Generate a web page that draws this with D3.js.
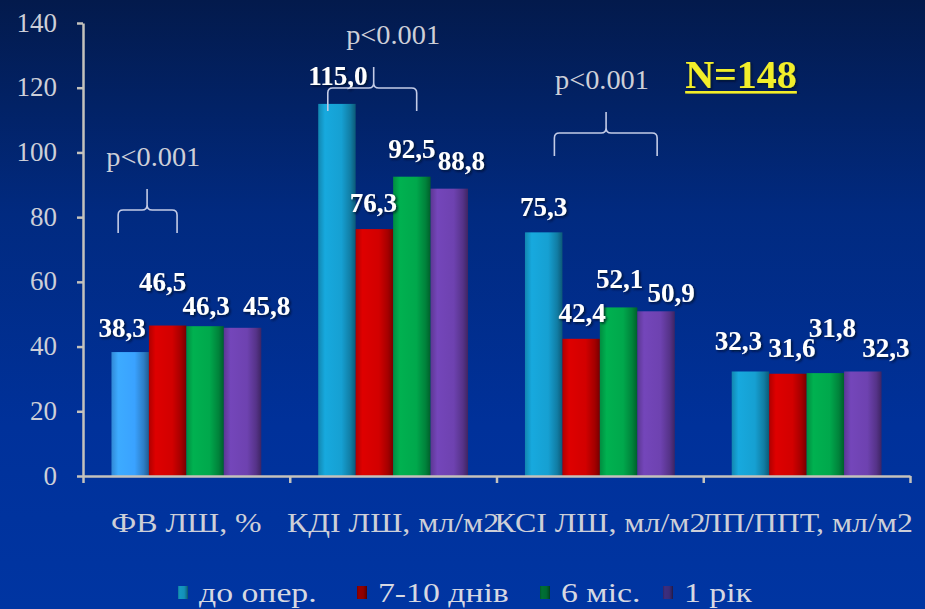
<!DOCTYPE html>
<html>
<head>
<meta charset="utf-8">
<script src="https://cdn.jsdelivr.net/npm/d3@7/dist/d3.min.js"></script>
<style>
  html, body { margin: 0; padding: 0; background: #00309a; }
  svg { display: block; }
</style>
</head>
<body>
<svg id="chart" width="925" height="609"></svg>
<script>
// Echocardiographic indices before surgery and at follow-up (N = 148)
const categories = ["ФВ ЛШ, %", "КДІ ЛШ, мл/м2", "КСІ ЛШ, мл/м2", "ЛП/ППТ, мл/м2"];
const seriesNames = ["до опер.", "7-10 днів", "6 міс.", "1 рік"];
const preOp    = [38.3, 115.0, 75.3, 32.3];
const days7to10 = [46.5, 76.3, 42.4, 31.6];
const months6  = [46.3, 92.5, 52.1, 31.8];
const year1    = [45.8, 88.8, 50.9, 32.3];
const yTicks = [0, 20, 40, 60, 80, 100, 120, 140];
const sampleNote = "N=148";
const pNote = "p<0.001";
const pCategories = [0, 1, 2];  // categories carrying a significance brace

const seriesValues = [preOp, days7to10, months6, year1];

// --- layout / styling ---
const W = 925, H = 609;
const plot = { left: 83, right: 910, top: 23, bottom: 476 };
const barColors = ["#16a0d2", "#d20000", "#00a84c", "#6e42b0"];
const firstBarColor = "#3aa2ff";
const legendColors = ["#1390b8", "#8e0000", "#006a32", "#3a2c78"];
// value-label nudges (px) per [category][series]: horizontal shift, lift above bar top
const labelShift = [[-8, -5, 1, 24], [1, -1, 0, 12], [0, 1, 1, 15], [-12, 4, 7, 23]];
const labelLift  = [[15, 35, 11, 13], [19, 17, 19, 19], [16, 17, 19, 9], [21, 17, 36, 14]];
// brace geometry within a category band (fractions) and the y value of its bar line
const braceSpec = [
  { from: 0.17, tip: 0.31, to: 0.455, level: 82.2, textAt: 0.34 },
  { from: 0.184, tip: 0.406, to: 0.614, level: 119.9, textAt: 0.50 },
  { from: 0.28, tip: 0.53, to: 0.777, level: 106.0, textAt: 0.51 }
];

const svg = d3.select("#chart");
const defs = svg.append("defs");

// background
const bg = defs.append("linearGradient").attr("id", "bg")
  .attr("x1", 0).attr("y1", 0).attr("x2", 0).attr("y2", 1);
bg.append("stop").attr("offset", "0%").attr("stop-color", "#031a4c");
bg.append("stop").attr("offset", "35%").attr("stop-color", "#012a80");
bg.append("stop").attr("offset", "70%").attr("stop-color", "#00319a");
bg.append("stop").attr("offset", "100%").attr("stop-color", "#0035a2");
svg.append("rect").attr("width", W).attr("height", H).attr("fill", "url(#bg)");

// cylinder-like shading for bars
function shade(id, c) {
  const base = d3.color(c);
  const g = defs.append("linearGradient").attr("id", id)
    .attr("x1", 0).attr("y1", 0).attr("x2", 1).attr("y2", 0);
  g.append("stop").attr("offset", "0%").attr("stop-color", base.darker(0.5));
  g.append("stop").attr("offset", "18%").attr("stop-color", base.brighter(0.15));
  g.append("stop").attr("offset", "62%").attr("stop-color", base);
  g.append("stop").attr("offset", "86%").attr("stop-color", base.darker(0.7));
  g.append("stop").attr("offset", "100%").attr("stop-color", base.darker(1.6));
}
barColors.forEach((c, i) => shade("bar" + i, c));
shade("barFirst", firstBarColor);
legendColors.forEach((c, i) => shade("leg" + i, c));

const shadow = defs.append("filter").attr("id", "shadow")
  .attr("x", "-20%").attr("y", "-20%").attr("width", "140%").attr("height", "140%");
shadow.append("feDropShadow").attr("dx", 1.5).attr("dy", 1.5).attr("stdDeviation", 1)
  .attr("flood-color", "#000820").attr("flood-opacity", 0.8);

// scales
const x = d3.scaleBand().domain(d3.range(categories.length))
  .range([plot.left, plot.right]).paddingInner(0).paddingOuter(0);
const xs = d3.scaleBand().domain(d3.range(seriesNames.length))
  .range([0, x.bandwidth()]).paddingInner(0).paddingOuter(0.76);
const y = d3.scaleLinear().domain([0, 140]).range([plot.bottom, plot.top]);

// bars
const cells = [];
categories.forEach((cat, ci) => {
  seriesValues.forEach((vals, si) => cells.push({ ci, si, v: vals[ci] }));
});

svg.append("g").selectAll("rect").data(cells).join("rect")
  .attr("x", d => x(d.ci) + xs(d.si))
  .attr("y", d => y(d.v))
  .attr("width", xs.bandwidth())
  .attr("height", d => y(0) - y(d.v))
  .attr("fill", d => (d.ci === 0 && d.si === 0) ? "url(#barFirst)" : `url(#bar${d.si})`);

// axes
const axisColor = "#c4c2bc";
const serif = "'Liberation Serif', 'Times New Roman', serif";
const textGrey = "#cdcfd8";

const yAxis = svg.append("g").attr("transform", `translate(${plot.left},0)`)
  .call(d3.axisLeft(y).tickValues(yTicks).tickSize(6).tickPadding(20).tickSizeOuter(0));
yAxis.select(".domain").attr("stroke", axisColor).attr("stroke-width", 2.5);
yAxis.selectAll(".tick line").attr("stroke", axisColor).attr("stroke-width", 2.5);
yAxis.selectAll(".tick text").attr("fill", textGrey).attr("font-family", serif)
  .attr("font-size", 27).attr("dy", "0.3em");

const xAxis = svg.append("g").attr("transform", `translate(0,${plot.bottom})`)
  .call(d3.axisBottom(d3.scaleLinear().domain([0, categories.length]).range([plot.left, plot.right]))
    .tickValues(d3.range(categories.length + 1)).tickSize(7).tickFormat("").tickSizeOuter(0));
xAxis.select(".domain").attr("stroke", axisColor).attr("stroke-width", 2.5);
xAxis.selectAll(".tick line").attr("stroke", axisColor).attr("stroke-width", 2.5);

// category labels (wide setting)
svg.append("g").selectAll("text").data(categories).join("text")
  .attr("transform", (d, i) => `translate(${x(i) + x.bandwidth() / 2},${plot.bottom + 56}) scale(1.18,1)`)
  .attr("text-anchor", "middle")
  .attr("fill", textGrey)
  .attr("font-family", serif)
  .attr("font-size", 27)
  .text(d => d);

// value labels
const fmt = v => d3.format(".1f")(v).replace(".", ",");
svg.append("g").selectAll("text").data(cells).join("text")
  .attr("x", d => x(d.ci) + xs(d.si) + xs.bandwidth() / 2 + labelShift[d.ci][d.si])
  .attr("y", d => y(d.v) - labelLift[d.ci][d.si])
  .attr("text-anchor", "middle")
  .attr("fill", "#ffffff")
  .attr("font-family", serif)
  .attr("font-weight", "bold")
  .attr("font-size", 27)
  .attr("filter", "url(#shadow)")
  .text(d => fmt(d.v));

// significance braces
const braceColor = "#c3cbe6";
pCategories.forEach((ci, k) => {
  const b = braceSpec[k];
  const x0 = x(ci) + b.from * x.bandwidth();
  const x1 = x(ci) + b.to * x.bandwidth();
  const xt = x(ci) + b.tip * x.bandwidth();
  const yl = y(b.level);
  const drop = 23, rise = 21, r = 5;
  const path = d3.path();
  path.moveTo(x0, yl + drop);
  path.lineTo(x0, yl + r);
  path.quadraticCurveTo(x0, yl, x0 + r, yl);
  path.lineTo(xt - r, yl);
  path.quadraticCurveTo(xt, yl, xt, yl - r);
  path.lineTo(xt, yl - rise);
  path.moveTo(xt, yl - r);
  path.quadraticCurveTo(xt, yl, xt + r, yl);
  path.lineTo(x1 - r, yl);
  path.quadraticCurveTo(x1, yl, x1, yl + r);
  path.lineTo(x1, yl + drop);
  svg.append("path").attr("d", path.toString())
    .attr("fill", "none").attr("stroke", braceColor).attr("stroke-width", 1.6);
  svg.append("text")
    .attr("transform", `translate(${x(ci) + b.textAt * x.bandwidth()},${yl - 44}) scale(1.05,1)`)
    .attr("text-anchor", "middle")
    .attr("fill", textGrey)
    .attr("font-family", serif)
    .attr("font-size", 27)
    .text(pNote);
});

// sample size
const nText = svg.append("text")
  .attr("x", 741).attr("y", 88)
  .attr("text-anchor", "middle")
  .attr("fill", "#f2ee2a")
  .attr("font-family", serif)
  .attr("font-weight", "bold")
  .attr("font-size", 40)
  .attr("filter", "url(#shadow)")
  .text(sampleNote);
const nb = nText.node().getBBox();
svg.append("rect").attr("x", nb.x).attr("y", 91).attr("width", nb.width).attr("height", 2.5)
  .attr("fill", "#f2ee2a").attr("filter", "url(#shadow)");

// legend
const legendX = [178, 357, 540, 663];
const legend = svg.append("g").selectAll("g").data(seriesNames).join("g")
  .attr("transform", (d, i) => `translate(${legendX[i]},${586})`);
legend.append("rect").attr("x", 0).attr("y", 0).attr("width", 10).attr("height", 13)
  .attr("fill", (d, i) => `url(#leg${i})`);
legend.append("text")
  .attr("transform", "translate(21,16) scale(1.25,1)")
  .attr("fill", "#d6d8e2")
  .attr("font-family", serif)
  .attr("font-size", 27)
  .text(d => d);
</script>
</body>
</html>
